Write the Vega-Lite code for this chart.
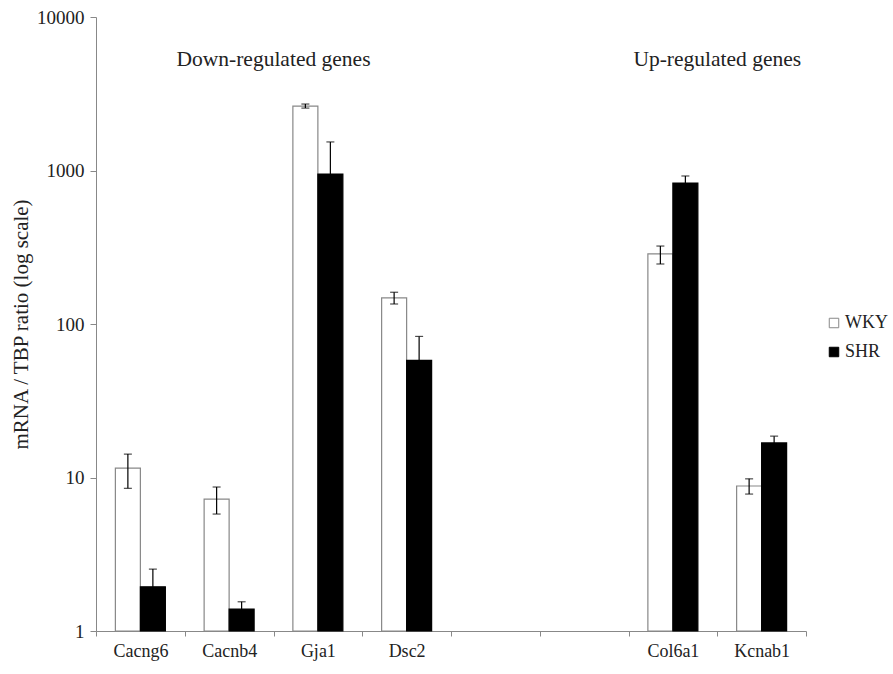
{
  "$schema": "https://vega.github.io/schema/vega-lite/v6.json",
  "width": 710,
  "height": 614,
  "autosize": {"type": "none"},
  "padding": {"left": 96, "top": 17, "right": 87, "bottom": 43},
  "background": "white",
  "config": {
    "view": {"stroke": null},
    "font": "Liberation Serif",
    "axis": {"labelFont": "Liberation Serif", "titleFont": "Liberation Serif", "grid": false},
    "legend": {"labelFont": "Liberation Serif"}
  },
  "datasets": {
    "bars": [
      {"gene": "Cacng6", "group": "WKY", "value": 11.5, "lo": 8.5, "hi": 14.2},
      {"gene": "Cacng6", "group": "SHR", "value": 1.94, "lo": 1.5, "hi": 2.53},
      {"gene": "Cacnb4", "group": "WKY", "value": 7.24, "lo": 5.78, "hi": 8.67},
      {"gene": "Cacnb4", "group": "SHR", "value": 1.39, "lo": 1.25, "hi": 1.55},
      {"gene": "Gja1", "group": "WKY", "value": 2630, "lo": 2550, "hi": 2710},
      {"gene": "Gja1", "group": "SHR", "value": 949, "lo": 400, "hi": 1535},
      {"gene": "Dsc2", "group": "WKY", "value": 148, "lo": 135, "hi": 161},
      {"gene": "Dsc2", "group": "SHR", "value": 58, "lo": 35, "hi": 83},
      {"gene": "Col6a1", "group": "WKY", "value": 286, "lo": 246, "hi": 322},
      {"gene": "Col6a1", "group": "SHR", "value": 829, "lo": 740, "hi": 921},
      {"gene": "Kcnab1", "group": "WKY", "value": 8.8, "lo": 7.8, "hi": 9.8},
      {"gene": "Kcnab1", "group": "SHR", "value": 16.8, "lo": 15, "hi": 18.6}
    ],
    "notes": [
      {"gene": "Gja1", "label": "Down-regulated genes", "y": 5250},
      {"gene": "Kcnab1", "label": "Up-regulated genes", "y": 5250}
    ]
  },
  "encoding": {
    "x": {
      "field": "gene",
      "type": "nominal",
      "sort": null,
      "scale": {"domain": ["Cacng6", "Cacnb4", "Gja1", "Dsc2", "b1", "b2", "Col6a1", "Kcnab1"], "paddingInner": 0, "paddingOuter": 0},
      "axis": {
        "title": null,
        "labelAngle": 0,
        "labelExpr": "datum.value == 'b1' || datum.value == 'b2' ? '' : datum.value",
        "tickBand": "extent",
        "domainColor": "#888",
        "tickColor": "#888",
        "tickSize": 5,
        "labelFontSize": 18,
        "labelColor": "#222",
        "labelPadding": 6
      }
    }
  },
  "layer": [
    {
      "data": {"name": "bars"},
      "mark": {"type": "bar", "strokeWidth": 1.2},
      "encoding": {
        "xOffset": {"field": "group", "type": "nominal", "scale": {"domain": ["WKY", "SHR"], "paddingInner": 0, "paddingOuter": 0.775}},
        "y": {
          "field": "value",
          "type": "quantitative",
          "scale": {"type": "log", "domain": [1, 10000], "nice": false},
          "axis": {
            "title": "mRNA / TBP ratio (log scale)",
            "values": [1, 10, 100, 1000, 10000],
            "format": "d",
            "domainColor": "#888",
            "tickColor": "#888",
            "tickSize": 6,
            "labelFontSize": 19,
            "labelColor": "#222",
            "labelPadding": 6,
            "titleFontSize": 21,
            "titleFontWeight": "normal",
            "titleColor": "#222",
            "titlePadding": 5
          }
        },
        "y2": {"datum": 1},
        "fill": {
          "field": "group",
          "type": "nominal",
          "scale": {"domain": ["WKY", "SHR"], "range": ["white", "black"]},
          "legend": {
            "title": null,
            "orient": "none",
            "legendX": 729,
            "legendY": 297,
            "symbolType": "square",
            "symbolSize": 90,
            "symbolStrokeWidth": 1,
            "labelFontSize": 18,
            "labelColor": "#222",
            "rowPadding": 11,
            "labelOffset": 2
          }
        },
        "stroke": {
          "field": "group",
          "type": "nominal",
          "scale": {"domain": ["WKY", "SHR"], "range": ["#888888", "black"]},
          "legend": {
            "title": null,
            "orient": "none",
            "legendX": 729,
            "legendY": 297,
            "symbolType": "square",
            "symbolSize": 90,
            "symbolStrokeWidth": 1,
            "labelFontSize": 18,
            "labelColor": "#222",
            "rowPadding": 11,
            "labelOffset": 2
          }
        }
      }
    },
    {
      "data": {"name": "bars"},
      "mark": {"type": "rule", "color": "black", "strokeWidth": 1.2},
      "encoding": {
        "xOffset": {"field": "group", "type": "nominal", "scale": {"domain": ["WKY", "SHR"], "paddingInner": 0, "paddingOuter": 0.775}},
        "y": {"field": "lo", "type": "quantitative"},
        "y2": {"field": "hi"}
      }
    },
    {
      "data": {"name": "bars"},
      "mark": {"type": "tick", "color": "black", "thickness": 1.2, "size": 8},
      "encoding": {
        "xOffset": {"field": "group", "type": "nominal", "scale": {"domain": ["WKY", "SHR"], "paddingInner": 0, "paddingOuter": 0.775}},
        "y": {"field": "hi", "type": "quantitative"}
      }
    },
    {
      "data": {"name": "bars"},
      "mark": {"type": "tick", "color": "black", "thickness": 1.2, "size": 8},
      "encoding": {
        "xOffset": {"field": "group", "type": "nominal", "scale": {"domain": ["WKY", "SHR"], "paddingInner": 0, "paddingOuter": 0.775}},
        "y": {"field": "lo", "type": "quantitative"}
      }
    },
    {
      "data": {"name": "notes"},
      "mark": {"type": "text", "fontSize": 21.5, "color": "#222", "baseline": "middle", "align": "center"},
      "encoding": {
        "x": {"field": "gene", "type": "nominal", "bandPosition": 0},
        "y": {"field": "y", "type": "quantitative"},
        "text": {"field": "label"}
      }
    }
  ],
  "resolve": {"scale": {"y": "shared"}}
}
